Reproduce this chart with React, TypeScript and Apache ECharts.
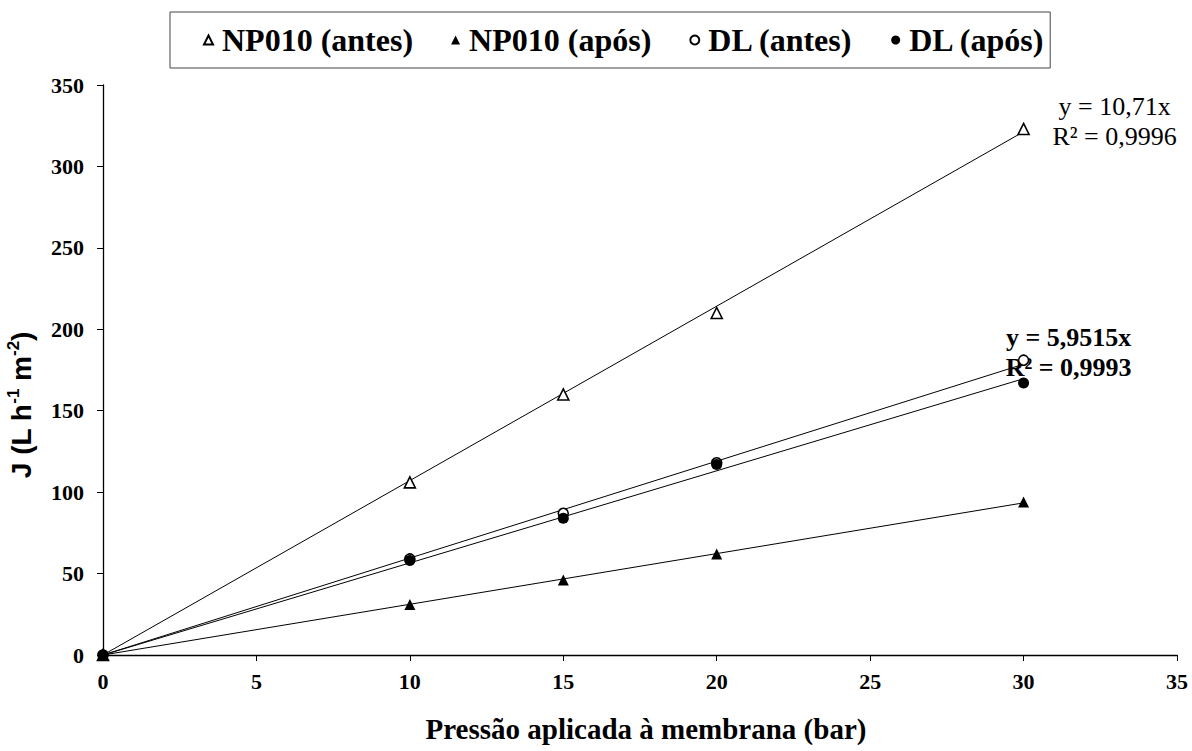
import React, { useEffect, useRef } from "react";
import * as echarts from "echarts";

// Applied pressure (bar) and permeate flux J (L h-1 m-2)
const pressures = [0, 10, 15, 20, 30];
const np010Antes = [0, 106, 160, 210, 323];
const np010Apos = [0, 31, 46, 62, 94];
const dlAntes = [0, 59, 87, 118, 181];
const dlApos = [0, 58, 84, 117, 167];

// Slopes printed on the chart for the labelled trend lines
const slopeNp010Antes = 10.71;
const slopeDlAntes = 5.9515;

const xTicks = { min: 0, max: 35, interval: 5 };
const yTicks = { min: 0, max: 350, interval: 50 };

const serif = "Liberation Serif";
const sans = "Liberation Sans";

// least squares slope for a line forced through the origin
function originSlope(xs: number[], ys: number[]): number {
  let sxy = 0;
  let sxx = 0;
  xs.forEach((x, i) => {
    sxy += x * ys[i];
    sxx += x * x;
  });
  return sxy / sxx;
}

const pairs = (ys: number[]) => pressures.map((x, i) => [x, ys[i]]);
const lastX = pressures[pressures.length - 1];
const trend = (k: number) => [
  [0, 0],
  [lastX, k * lastX],
];

export default function App() {
  const ref = useRef<HTMLDivElement>(null);

  useEffect(() => {
    if (!ref.current) return;
    const chart = echarts.init(ref.current, null, { renderer: "svg" });

    const hollow = { color: "#fff", borderColor: "#000", borderWidth: 1.6, opacity: 1 };
    const filled = { color: "#000", borderColor: "#000", borderWidth: 0, opacity: 1 };
    const trendLine = { color: "#000", width: 1 };

    chart.setOption({
      animation: false,
      backgroundColor: "#fff",
      grid: {
        left: 103,
        right: 15,
        top: 85,
        bottom: 96,
        containLabel: false,
        outerBoundsMode: "none",
      },
      legend: {
        data: ["NP010 (antes)", "NP010 (após)", "DL (antes)", "DL (após)"],
        left: 170,
        top: 12,
        padding: [12, 5, 12, 33],
        itemGap: 38,
        itemWidth: 9,
        itemHeight: 9,
        borderColor: "#444",
        borderWidth: 1,
        textStyle: {
          fontFamily: serif,
          fontWeight: "bold",
          fontSize: 32,
          color: "#000",
          padding: [0, 0, 0, 4],
        },
      },
      xAxis: {
        type: "value",
        ...xTicks,
        name: "Pressão aplicada à membrana (bar)",
        nameLocation: "middle",
        nameGap: 59,
        nameTextStyle: { fontFamily: serif, fontWeight: "bold", fontSize: 29, color: "#000", padding: [0, 0, 0, 12] },
        axisLine: { lineStyle: { color: "#000", width: 1.3 } },
        axisTick: { show: true, inside: false, length: 6, lineStyle: { color: "#000" } },
        axisLabel: { fontFamily: serif, fontWeight: "bold", fontSize: 22, color: "#000", margin: 15 },
        splitLine: { show: false },
      },
      yAxis: {
        type: "value",
        ...yTicks,
        name: "{b|J (L h}{s|-1}{b| m}{s|-2}{b|)}",
        nameLocation: "middle",
        nameRotate: 90,
        nameGap: 66,
        nameTextStyle: {
          padding: [0, 70, 0, 0],
          rich: {
            b: { fontFamily: sans, fontWeight: "bold", fontSize: 28, color: "#000", lineHeight: 32 },
            s: {
              fontFamily: sans,
              fontWeight: "bold",
              fontSize: 17,
              color: "#000",
              lineHeight: 32,
              verticalAlign: "top",
              padding: [0, 0, 10, 0],
            },
          },
        },
        axisLine: { show: true, lineStyle: { color: "#000", width: 1.3 } },
        axisTick: { show: true, inside: false, length: 6, lineStyle: { color: "#000" } },
        axisLabel: { fontFamily: serif, fontWeight: "bold", fontSize: 22, color: "#000", margin: 19 },
        splitLine: { show: false },
      },
      series: [
        {
          name: "trend NP010 antes",
          type: "line",
          data: trend(slopeNp010Antes),
          showSymbol: false,
          lineStyle: trendLine,
          z: 1,
          silent: true,
          endLabel: {
            show: true,
            formatter: "y = 10,71x\nR² = 0,9996",
            fontFamily: serif,
            fontSize: 26,
            lineHeight: 30,
            color: "#000",
            align: "center",
            offset: [83, -10],
          },
        },
        {
          name: "trend NP010 após",
          type: "line",
          data: trend(originSlope(pressures, np010Apos)),
          showSymbol: false,
          lineStyle: trendLine,
          z: 1,
          silent: true,
        },
        {
          name: "trend DL antes",
          type: "line",
          data: trend(slopeDlAntes),
          showSymbol: false,
          lineStyle: trendLine,
          z: 1,
          silent: true,
          endLabel: {
            show: true,
            formatter: "y = 5,9515x\nR² = 0,9993",
            fontFamily: serif,
            fontWeight: "bold",
            fontSize: 26,
            lineHeight: 30,
            color: "#000",
            align: "center",
            offset: [37, -12],
          },
        },
        {
          name: "trend DL após",
          type: "line",
          data: trend(originSlope(pressures, dlApos)),
          showSymbol: false,
          lineStyle: trendLine,
          z: 1,
          silent: true,
        },
        {
          name: "NP010 (antes)",
          type: "scatter",
          data: pairs(np010Antes),
          symbol: "triangle",
          symbolSize: 11,
          itemStyle: hollow,
          z: 3,
        },
        {
          name: "NP010 (após)",
          type: "scatter",
          data: pairs(np010Apos),
          symbol: "triangle",
          symbolSize: 11,
          itemStyle: filled,
          z: 3,
        },
        {
          name: "DL (antes)",
          type: "scatter",
          data: pairs(dlAntes),
          symbol: "circle",
          symbolSize: 10,
          itemStyle: hollow,
          z: 3,
        },
        {
          name: "DL (após)",
          type: "scatter",
          data: pairs(dlApos),
          symbol: "circle",
          symbolSize: 11,
          itemStyle: filled,
          z: 4,
        },
      ],
    });

    return () => chart.dispose();
  }, []);

  return (
    <div
      ref={ref}
      style={{ position: "fixed", left: 0, top: 0, width: 1192, height: 751 }}
    />
  );
}
